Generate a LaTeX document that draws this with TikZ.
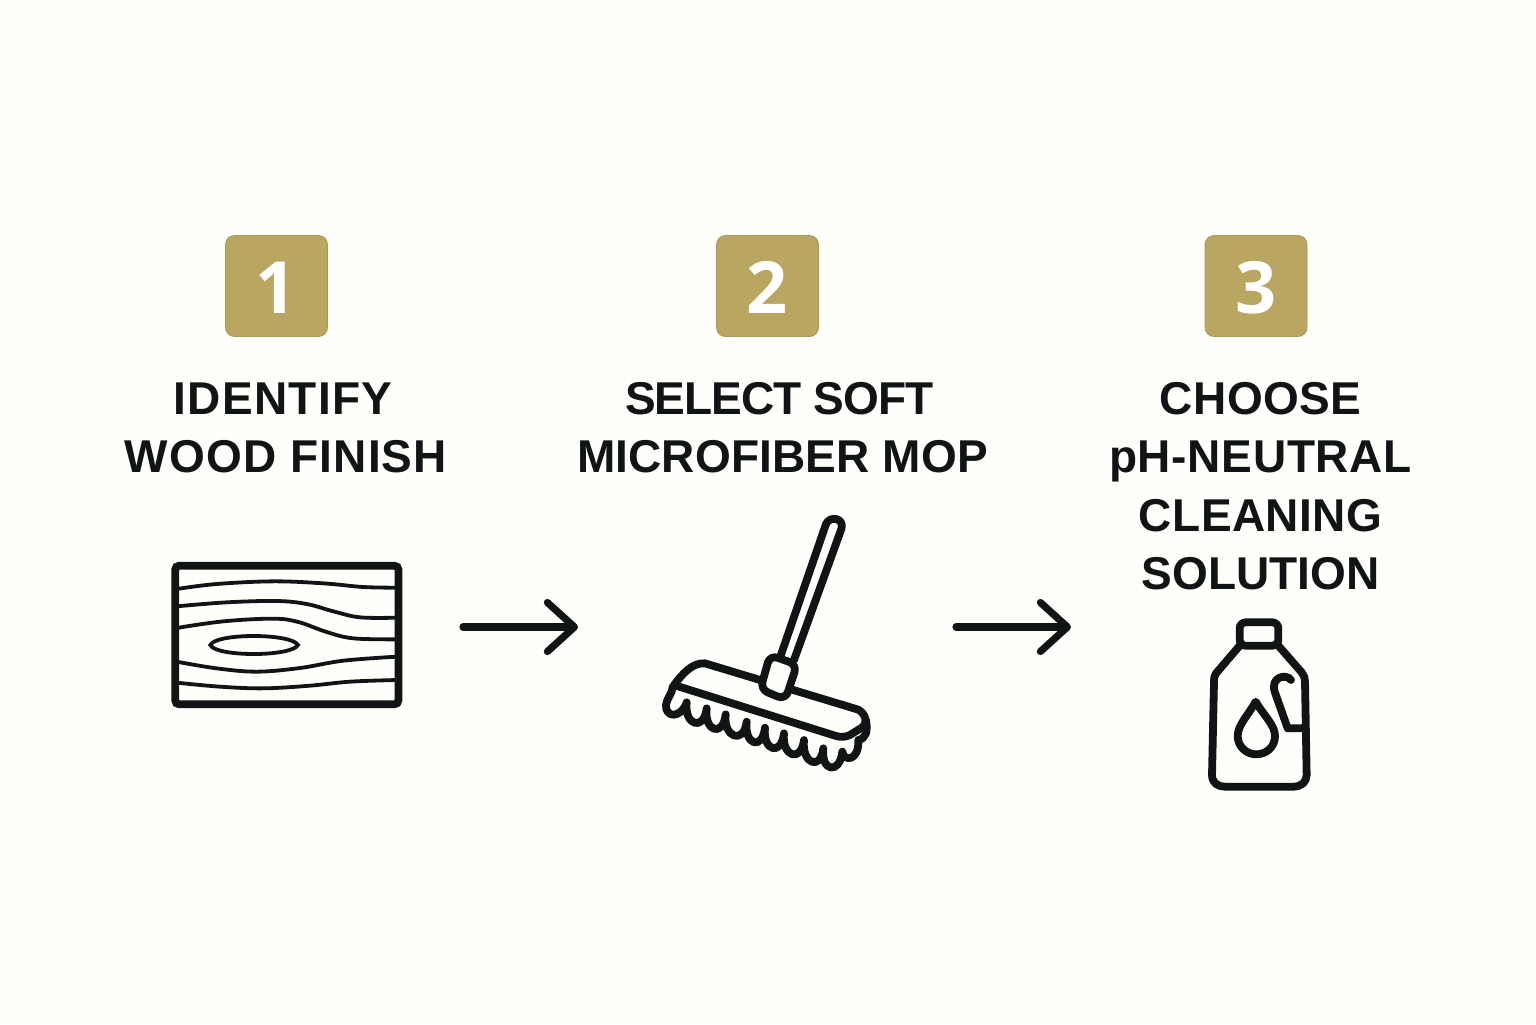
\documentclass[tikz,border=0pt]{standalone}
\usepackage{fontspec}
\setmainfont{Liberation Sans}
\newfontfamily\digitfont{Open Sans}
\usetikzlibrary{arrows.meta}
\definecolor{paper}{HTML}{FEFEFA}
\definecolor{ink}{HTML}{111414}
\definecolor{gold}{HTML}{B9A660}
\newcommand{\ls}[2]{{\addfontfeature{LetterSpace=#1}#2}}
\newcommand{\digit}[1]{\raisebox{-0.8pt}[25.7pt][0pt]{#1}}
\tikzset{
  badge/.style={draw=gold!92!black,line width=0.4pt,fill=gold,rounded corners=4.5pt,minimum width=51pt,minimum height=50.5pt,inner sep=0pt,text=white,font=\digitfont\bfseries\fontsize{36}{36}\selectfont},
  steplabel/.style={anchor=north,align=center,inner sep=0pt,text=ink,font=\bfseries\fontsize{23}{29.15}\selectfont},
  icon/.style={draw=ink,line width=3.9pt,line join=round,line cap=round},
  grain/.style={draw=ink,line width=1.9pt,line cap=butt},
  flow/.style={draw=ink,line width=3.6pt,line cap=round,-{Straight Barb[length=13.5pt,width=24.5pt,round]}}
}
\begin{document}
\begin{tikzpicture}[x=0.5pt,y=-0.5pt]
\useasboundingbox (0,0) rectangle (1536,1024);
\fill[paper] (0,0) rectangle (1536,1024);
% badges
\node[badge] (b1) at (276.5,286) {\digit{1}};
\node[badge] (b2) at (767.5,286) {\digit{2}};
\node[badge] (b3) at (1256,286) {\digit{3}};
% labels
\node[steplabel] (t1) at (286,382) {\ls{3}{IDENTIFY}\hspace*{3pt}\\\ls{2.5}{WOOD FINISH}};
\node[steplabel] (t2) at (782.5,382) {\ls{-2}{SELECT SOFT}\hspace*{3pt}\\\ls{0.3}{MICROFIBER MOP}};
\node[steplabel] (t3) at (1260.5,382) {\ls{0.9}{CHOOSE}\\\ls{1.5}{pH-NEUTRAL}\\\ls{0.9}{CLEANING}\\SOLUTION};
% wood
\begin{scope}[shift={(150,540)},scale=1/3]
\draw[grain] plot[smooth,tension=0.6] coordinates {(80,147)(200,132)(370,124)(520,130)(640,141)(740,143)};
\draw[grain] plot[smooth,tension=0.6] coordinates {(80,199)(230,187)(380,183)(470,192)(550,214)(630,232)(740,233)};
\draw[grain] plot[smooth,tension=0.6] coordinates {(80,264)(220,244)(370,236)(445,246)(530,276)(610,295)(740,298)};
\draw[grain] plot[smooth,tension=0.6] coordinates {(80,365)(200,385)(320,395)(450,384)(580,362)(740,350)};
\draw[grain] plot[smooth,tension=0.6] coordinates {(80,428)(210,440)(340,445)(480,437)(600,425)(740,420)};
\draw[grain] (181,315) .. controls (197,279) and (424,279) .. (444,315) .. controls (424,351) and (197,351) .. (181,315) -- cycle;
\end{scope}
\node[draw=ink,line width=3.9pt,rounded corners=2pt,minimum width=111.6pt,minimum height=69.3pt,inner sep=0pt] (wood) at (286.8,635) {};
% mop
\begin{scope}[shift={(650,505)},scale=1/3]
\draw[icon] (68,545) .. controls (65,570) and (50,580) .. (48,600) .. controls (45,640) and (95,640) .. (110,592)
  .. controls +(-8,70) and +(-8,70) .. (170,610)
  .. controls +(-8,70) and +(-8,70) .. (227,628)
  .. controls +(-8,70) and +(-8,70) .. (290,650)
  .. controls +(-8,70) and +(-8,70) .. (345,668)
  .. controls +(-8,70) and +(-8,70) .. (402,685)
  .. controls +(-8,70) and +(-8,70) .. (462,705)
  .. controls +(-8,70) and +(-8,70) .. (520,730)
  .. controls +(-8,70) and +(-8,70) .. (577,740)
  .. controls (580,770) and (628,770) .. (625,705)
  .. controls (648,700) and (654,680) .. (648,645);
\draw[icon,fill=paper] (72,540) .. controls (95,510) and (125,472) .. (165,475) -- (625,614) .. controls (650,630) and (650,650) .. (640,665) -- (600,690) .. controls (585,697) and (570,697) .. (555,692) -- cycle;
\draw[icon,fill=paper] (392,452) -- (528,57) .. controls (540,30) and (585,40) .. (574,72) -- (432,465);
\draw[icon,fill=paper,rounded corners=4pt] (360,450) -- (441,479) -- (406,584) -- (331,553) -- cycle;
\end{scope}
% bottle
\begin{scope}[shift={(1190,610)},scale=1/3]
\draw[icon,rounded corners=3pt] (149,37) -- (265,37) -- (265,107) -- (149,107) -- cycle;
\draw[icon] (149,107) -- (78,190) .. controls (72,198) and (72,205) .. (72,215) -- (66,495) .. controls (66,520) and (85,530) .. (105,530) -- (310,530) .. controls (335,530) and (350,515) .. (350,495) -- (345,215) .. controls (345,205) and (342,195) .. (335,187) -- (265,107);
\draw[icon] (303,210) .. controls (290,190) and (240,200) .. (254,245) -- (293,355) -- (345,355);
\draw[icon] (197,275) .. controls (175,315) and (143,345) .. (143,378) .. controls (143,410) and (170,433) .. (198,433) .. controls (230,433) and (255,410) .. (255,378) .. controls (255,345) and (220,315) .. (197,275) -- cycle;
\end{scope}
% connectors
\coordinate (a1s) at (463,627);
\coordinate (a1e) at (578,627);
\coordinate (a2s) at (956,627);
\coordinate (a2e) at (1071,627);
\draw[flow] (a1s) -- (a1e);
\draw[flow] (a2s) -- (a2e);
\end{tikzpicture}
\end{document}
